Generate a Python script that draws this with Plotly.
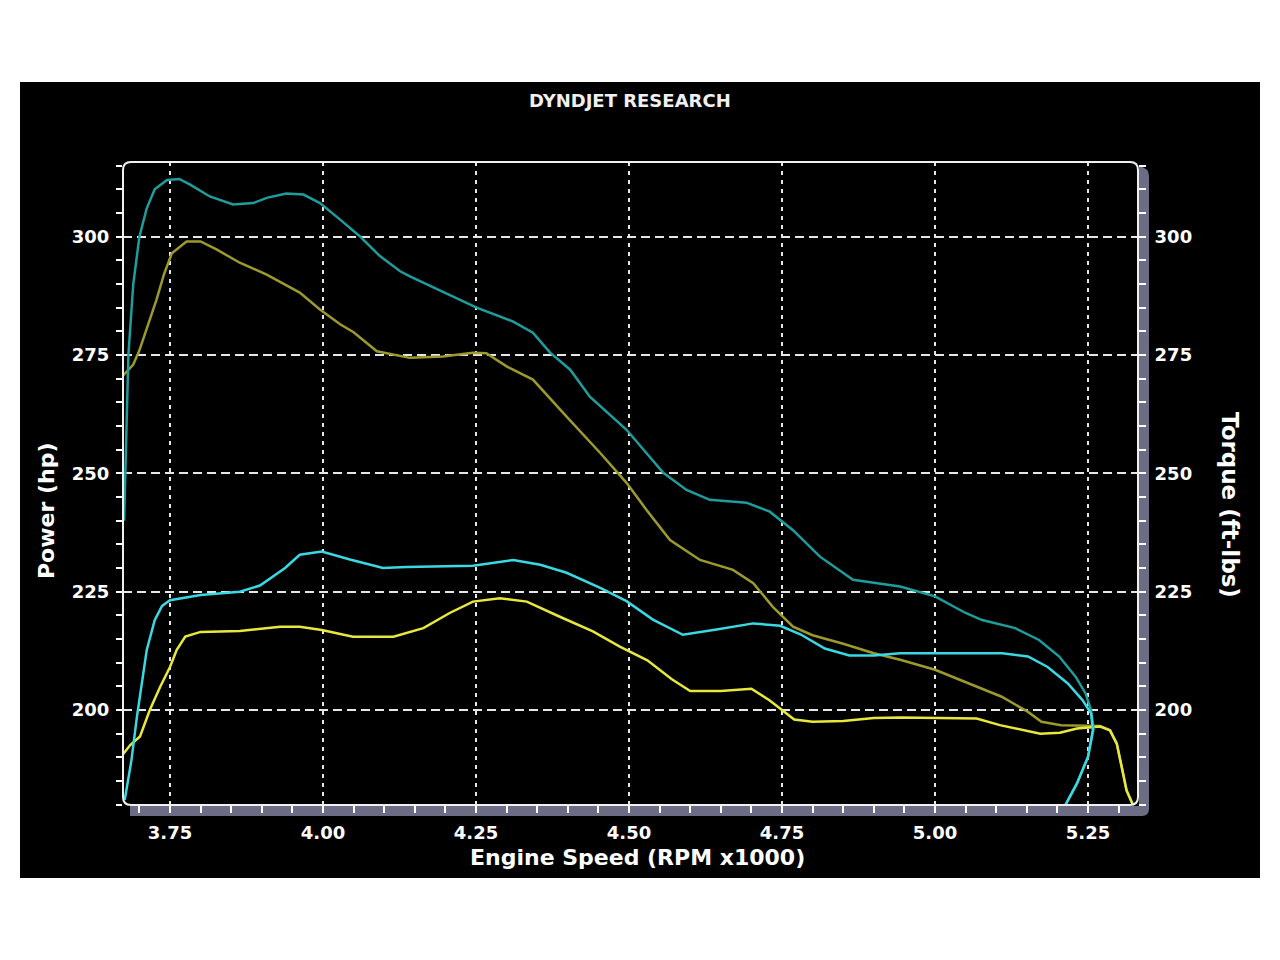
import plotly.graph_objects as go

# ---------------- data ----------------
teal_rpm = [3.675, 3.678, 3.682, 3.690, 3.700, 3.712, 3.725, 3.745, 3.765, 3.783, 3.815, 3.853,
            3.886, 3.908, 3.940, 3.968, 3.995, 4.028, 4.060, 4.093, 4.126, 4.142, 4.196, 4.251,
            4.310, 4.343, 4.371, 4.404, 4.436, 4.496, 4.556, 4.594, 4.632, 4.692, 4.730, 4.768,
            4.812, 4.866, 4.943, 5.000, 5.050, 5.077, 5.131, 5.170, 5.203, 5.230, 5.246, 5.255,
            5.259, 5.250, 5.232, 5.213]
teal_val = [240.0, 258.0, 275.0, 290.0, 300.0, 306.0, 310.0, 312.0, 312.2, 311.0, 308.5, 306.8,
            307.1, 308.2, 309.1, 308.9, 307.1, 303.6, 300.1, 295.9, 292.7, 291.6, 288.4, 285.0,
            282.1, 279.7, 275.5, 271.9, 266.2, 259.2, 250.1, 246.5, 244.4, 243.8, 241.9, 238.0,
            232.4, 227.5, 226.1, 224.0, 220.5, 219.0, 217.3, 214.8, 211.3, 207.0, 203.5, 200.0,
            196.0, 190.1, 184.5, 179.9]

olive_rpm = [3.672, 3.690, 3.700, 3.715, 3.728, 3.740, 3.753, 3.777, 3.800, 3.826, 3.864, 3.908,
             3.962, 3.995, 4.028, 4.050, 4.088, 4.142, 4.196, 4.245, 4.267, 4.300, 4.343, 4.398,
             4.453, 4.496, 4.529, 4.567, 4.616, 4.670, 4.703, 4.735, 4.768, 4.800, 4.850, 4.900,
             4.943, 5.000, 5.055, 5.109, 5.152, 5.174, 5.206, 5.255, 5.270, 5.286, 5.297, 5.305,
             5.313, 5.324]
olive_val = [270.5, 273.0, 276.0, 281.5, 286.7, 292.0, 296.5, 299.0, 299.0, 297.3, 294.5, 292.0,
             288.2, 284.6, 281.5, 279.8, 275.8, 274.4, 274.7, 275.5, 275.4, 272.6, 269.8, 262.0,
             254.3, 248.0, 242.2, 235.9, 231.7, 229.6, 226.8, 221.8, 217.6, 215.8, 214.0, 212.0,
             210.6, 208.5, 205.6, 202.8, 199.6, 197.5, 196.8, 196.6, 196.6, 195.7, 192.9, 188.0,
             183.0, 179.8]

cyan_rpm = [3.676, 3.687, 3.696, 3.704, 3.712, 3.725, 3.737, 3.750, 3.800, 3.864, 3.897, 3.938,
            3.962, 3.998, 4.044, 4.098, 4.136, 4.245, 4.311, 4.355, 4.398, 4.453, 4.496, 4.539,
            4.588, 4.643, 4.686, 4.703, 4.747, 4.780, 4.820, 4.860, 4.900, 4.943, 5.025, 5.110,
            5.152, 5.184, 5.217, 5.241, 5.255, 5.258, 5.250, 5.232, 5.213]
cyan_val = [181.0, 189.4, 198.6, 205.6, 212.7, 219.0, 222.0, 223.2, 224.3, 225.0, 226.3, 230.0,
            232.8, 233.5, 231.8, 230.0, 230.2, 230.5, 231.7, 230.7, 229.0, 225.8, 223.0, 219.1,
            215.9, 217.0, 218.0, 218.3, 217.8, 216.0, 213.0, 211.5, 211.5, 212.0, 212.0, 212.0,
            211.3, 209.1, 205.6, 202.1, 199.3, 195.8, 190.1, 184.5, 179.9]

yellow_rpm = [3.668, 3.685, 3.701, 3.717, 3.734, 3.750, 3.761, 3.775, 3.800, 3.864, 3.930, 3.962,
              3.998, 4.049, 4.115, 4.164, 4.207, 4.245, 4.289, 4.333, 4.387, 4.441, 4.485, 4.530,
              4.570, 4.600, 4.650, 4.700, 4.730, 4.770, 4.800, 4.850, 4.900, 4.944, 5.068, 5.106,
              5.172, 5.204, 5.232, 5.270, 5.286, 5.297, 5.305, 5.313, 5.324]
yellow_val = [189.8, 192.6, 194.4, 200.0, 204.9, 209.1, 212.7, 215.5, 216.5, 216.7, 217.6, 217.6,
              216.9, 215.5, 215.5, 217.3, 220.5, 222.9, 223.6, 222.9, 219.7, 216.6, 213.4, 210.5,
              206.5, 204.0, 204.0, 204.5, 202.0, 198.0, 197.5, 197.7, 198.3, 198.4, 198.2, 196.8,
              195.0, 195.2, 196.1, 196.5, 195.7, 192.9, 188.0, 183.0, 179.8]

x_tick_vals = [3.75, 4.00, 4.25, 4.50, 4.75, 5.00, 5.25]
x_tick_text = ["3.75", "4.00", "4.25", "4.50", "4.75", "5.00", "5.25"]
y_tick_vals = [200, 225, 250, 275, 300]
y_tick_text = ["200", "225", "250", "275", "300"]

X_RANGE = [3.6732, 5.3317]
Y_RANGE = [179.93, 315.78]

# ---------------- layout helpers (pixel -> paper) ----------------
L, R, T, B = 123, 1138, 162, 805
W, H = R - L, B - T


def px(x):
    return (x - L) / W


def py(y):
    return (B - y) / H


FONT = "DejaVu Sans"

fig = go.Figure()
fig.add_trace(go.Scatter(x=teal_rpm, y=teal_val, mode="lines", yaxis="y2",
                         line=dict(color="#1f9c9c", width=2.5), name="Torque 1"))
fig.add_trace(go.Scatter(x=olive_rpm, y=olive_val, mode="lines",
                         line=dict(color="#9c9a2c", width=2.5), name="Power 1"))
fig.add_trace(go.Scatter(x=cyan_rpm, y=cyan_val, mode="lines", yaxis="y2",
                         line=dict(color="#3ad8e2", width=2.5), name="Torque 2"))
fig.add_trace(go.Scatter(x=yellow_rpm, y=yellow_val, mode="lines",
                         line=dict(color="#e8e83c", width=2.5), name="Power 2"))

tickfont = dict(family=FONT, size=18, color="white", weight="bold")

fig.update_layout(
    width=1280, height=960,
    margin=dict(l=L, r=1280 - R, t=T, b=960 - B, pad=0),
    paper_bgcolor="white",
    plot_bgcolor="black",
    showlegend=False,
    xaxis=dict(
        range=X_RANGE, tickvals=x_tick_vals, ticktext=x_tick_text,
        showgrid=True, gridcolor="#e6e6e6", gridwidth=2, griddash="4px,5px",
        zeroline=False, showline=False,
        ticks="outside", ticklen=7, tickwidth=2, tickcolor="white",
        tickfont=tickfont, ticklabelstandoff=4,
        minor=dict(dtick=0.05, tick0=3.75, ticks="outside", ticklen=7, tickwidth=2,
                   tickcolor="white", showgrid=False),
    ),
    yaxis=dict(
        range=Y_RANGE, tickvals=y_tick_vals, ticktext=y_tick_text,
        showgrid=True, gridcolor="#e6e6e6", gridwidth=2, griddash="9px,5px",
        zeroline=False, showline=False,
        ticks="outside", ticklen=6, tickwidth=2, tickcolor="white",
        tickfont=tickfont, ticklabelstandoff=3,
        minor=dict(dtick=5, tick0=200, ticks="outside", ticklen=6, tickwidth=2,
                   tickcolor="white", showgrid=False),
    ),
    yaxis2=dict(
        range=Y_RANGE, tickvals=y_tick_vals, ticktext=y_tick_text,
        overlaying="y", side="right", showgrid=False,
        zeroline=False, showline=False,
        ticks="outside", ticklen=7, tickwidth=2, tickcolor="white",
        tickfont=tickfont, ticklabelstandoff=5,
        minor=dict(dtick=5, tick0=200, ticks="outside", ticklen=7, tickwidth=2,
                   tickcolor="white", showgrid=False),
    ),
)

# black panel behind the chart
shapes = [
    dict(type="rect", xref="paper", yref="paper", layer="below",
         x0=px(20), x1=px(1260), y0=py(878), y1=py(82),
         fillcolor="black", line=dict(width=0)),
]

# grey 3-D strip on the right and bottom
strip = (f"M {px(1139)},{py(166)} Q {px(1149)},{py(168)} {px(1149)},{py(176)} "
         f"L {px(1149)},{py(809)} Q {px(1149)},{py(816)} {px(1142)},{py(816)} "
         f"L {px(130)},{py(816)} L {px(130)},{py(806)} L {px(1139)},{py(806)} Z")
shapes.append(dict(type="path", xref="paper", yref="paper", layer="below", path=strip,
                   fillcolor="#6c6c84", line=dict(width=0)))

# white rounded frame
r = 8
frame = (f"M {px(L)},{py(B - r)} L {px(L)},{py(T + r)} Q {px(L)},{py(T)} {px(L + r)},{py(T)} "
         f"L {px(R - r)},{py(T)} Q {px(R)},{py(T)} {px(R)},{py(T + r)} "
         f"L {px(R)},{py(B - r)} Q {px(R)},{py(B)} {px(R - r)},{py(B)} "
         f"L {px(L + r)},{py(B)} Q {px(L)},{py(B)} {px(L)},{py(B - r)} Z")
shapes.append(dict(type="path", xref="paper", yref="paper", layer="above", path=frame,
                   fillcolor="rgba(0,0,0,0)", line=dict(color="#f0f0f0", width=2)))

fig.update_layout(shapes=shapes)


def label(text, x, y, size, angle=0, color="white"):
    fig.add_annotation(text=text, xref="paper", yref="paper",
                       x=px(x), y=py(y), xanchor="center", yanchor="middle",
                       showarrow=False, textangle=angle,
                       font=dict(family=FONT, size=size, color=color, weight="bold"))


label("DYNDJET RESEARCH", 630, 100, 18, color="#f0f0f0")
label("Engine Speed (RPM x1000)", 637, 857, 22)
label("Power (hp)", 46, 511, 22, angle=-90)
label("Torque (ft-lbs)", 1230, 505, 23, angle=90)

fig.write_html("out.html")
